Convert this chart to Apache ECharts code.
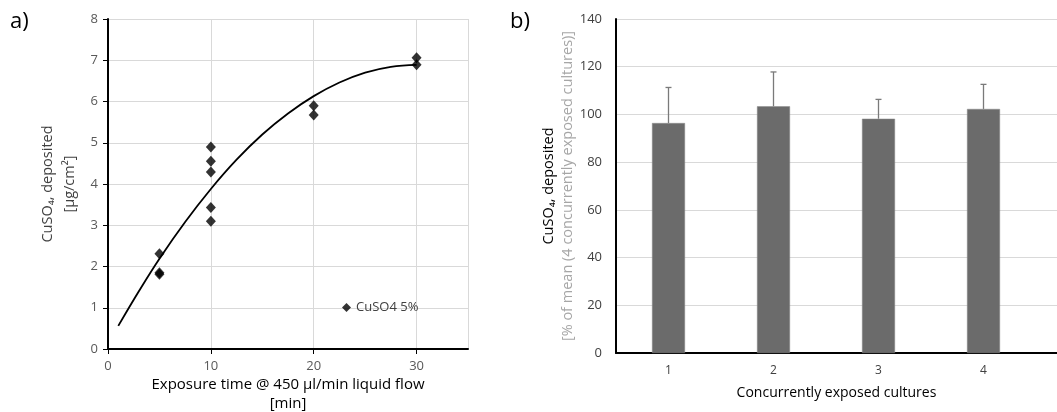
<!DOCTYPE html>
<html><head><meta charset="utf-8">
<script src="https://cdn.jsdelivr.net/npm/echarts@6/dist/echarts.min.js"></script>
<style>html,body{margin:0;padding:0;background:#fff}#c{width:1057px;height:412px}</style>
</head><body><div id="c"></div>
<script>
// ---- Panel a) data ----
const scatterX = [5, 5, 5, 10, 10, 10, 10, 10, 20, 20, 30, 30];
const scatterY = [2.31, 1.85, 1.81, 4.90, 4.55, 4.29, 3.43, 3.10, 5.90, 5.67, 7.06, 6.89];
const trendX = [1, 3, 5, 7.5, 10, 12.5, 15, 17.5, 20, 22.5, 25, 27.5, 30];
const trendY = [0.56, 1.40, 2.19, 3.08, 3.88, 4.59, 5.20, 5.71, 6.13, 6.46, 6.70, 6.84, 6.89];
const seriesNameA = 'CuSO4 5%';
// ---- Panel b) data ----
const cultures = [1, 2, 3, 4];
const meanPct = [96.4, 103.4, 98.2, 102.3];
const errPct = [14.9, 14.4, 8.1, 10.3];

const FONT = 'Open Sans';
const chart = echarts.init(document.getElementById('c'));
const scatterData = scatterX.map((x, i) => [x, scatterY[i]]);
const trendData = trendX.map((x, i) => [x, trendY[i]]);
const barData = cultures.map((c, i) => [c, meanPct[i]]);
const errData = cultures.map((c, i) => [c, meanPct[i], meanPct[i] + errPct[i]]);

chart.setOption({
  animation: false,
  textStyle: {fontFamily: FONT},
  graphic: [
    {type: 'text', left: 10, top: 11, style: {text: 'a)', fontSize: 22, fontFamily: FONT, fill: '#000'}},
    {type: 'text', left: 510, top: 11, style: {text: 'b)', fontSize: 22, fontFamily: FONT, fill: '#000'}}
  ],
  legend: {
    data: [seriesNameA], left: 337, top: 296, itemWidth: 9, itemHeight: 9, itemGap: 4,
    textStyle: {fontSize: 13, color: '#404040', fontFamily: FONT}
  },
  grid: [
    {left: 108, top: 19, right: 589, bottom: 63, outerBoundsMode: 'none', containLabel: false},
    {left: 616, top: 19, right: 0, bottom: 59, outerBoundsMode: 'none', containLabel: false}
  ],
  xAxis: [
    {
      gridIndex: 0, type: 'value', min: 0, max: 35, interval: 10,
      name: 'Exposure time @ 450 µl/min liquid flow\n[min]', nameLocation: 'middle', nameGap: 26,
      nameMoveOverlap: false,
      nameTextStyle: {fontSize: 15, color: '#000', lineHeight: 19, fontFamily: FONT, verticalAlign: 'top'},
      axisLine: {lineStyle: {color: '#000', width: 2}},
      axisTick: {show: true, length: 5, lineStyle: {color: '#000'}},
      axisLabel: {fontSize: 13, color: '#595959', margin: 11, showMaxLabel: false},
      splitLine: {show: true, lineStyle: {color: '#d9d9d9'}}
    },
    {
      gridIndex: 1, type: 'value', min: 0.5, max: 4.7, interval: 0.5,
      name: 'Concurrently exposed cultures', nameLocation: 'middle', nameGap: 33,
      nameMoveOverlap: false,
      nameTextStyle: {fontSize: 14, color: '#000', fontFamily: FONT},
      axisLine: {onZero: false, lineStyle: {color: '#000', width: 2}},
      axisTick: {show: false},
      axisLabel: {fontSize: 12, color: '#404040', margin: 12, showMaxLabel: false,
        formatter: v => Number.isInteger(v) ? String(v) : ''},
      splitLine: {show: false}
    }
  ],
  yAxis: [
    {
      gridIndex: 0, type: 'value', min: 0, max: 8, interval: 1,
      name: '{a|CuSO₄, deposited}\n{a|[µg/cm²]}', nameLocation: 'middle', nameGap: 27,
      nameTextStyle: {rich: {a: {fontSize: 14.5, color: '#404040', lineHeight: 22, fontFamily: FONT}}},
      axisLine: {show: true, lineStyle: {color: '#000', width: 2}},
      axisTick: {show: true, length: 5, lineStyle: {color: '#000'}},
      axisLabel: {fontSize: 13, color: '#595959', margin: 10},
      splitLine: {show: true, lineStyle: {color: '#d9d9d9'}}
    },
    {
      gridIndex: 1, type: 'value', min: 0, max: 140, interval: 20,
      name: '{a|CuSO₄, deposited}\n{b|[% of mean (4 concurrently exposed cultures)]}', nameLocation: 'middle', nameGap: 38,
      nameTextStyle: {rich: {
        a: {fontSize: 14.5, color: '#000', lineHeight: 19, fontFamily: FONT},
        b: {fontSize: 14.5, color: '#a6a6a6', lineHeight: 19, fontFamily: FONT}
      }},
      axisLine: {show: true, lineStyle: {color: '#000', width: 2}},
      axisTick: {show: false},
      axisLabel: {fontSize: 13, color: '#404040', margin: 14},
      splitLine: {show: true, lineStyle: {color: '#d9d9d9'}}
    }
  ],
  series: [
    {
      name: 'trend', type: 'line', xAxisIndex: 0, yAxisIndex: 0, data: trendData,
      smooth: 0.4, showSymbol: false, symbol: 'none', silent: true,
      lineStyle: {color: '#000', width: 1.8}, z: 3
    },
    {
      name: seriesNameA, type: 'scatter', xAxisIndex: 0, yAxisIndex: 0, data: scatterData,
      symbol: 'diamond', symbolSize: [10, 11], itemStyle: {color: '#000'}, z: 4
    },
    {
      name: 'mean', type: 'bar', xAxisIndex: 1, yAxisIndex: 1, data: barData,
      barWidth: 33, itemStyle: {color: '#6b6b6b', borderColor: '#8a8a8a', borderWidth: 0.5}, z: 2
    },
    {
      name: 'err', type: 'custom', xAxisIndex: 1, yAxisIndex: 1, data: errData, z: 3,
      renderItem: function (params, api) {
        const x = api.value(0);
        const lo = api.coord([x, api.value(1)]);
        const hi = api.coord([x, api.value(2)]);
        const cw = 3;
        const st = {stroke: '#7a7a7a', lineWidth: 1.3};
        return {type: 'group', children: [
          {type: 'line', shape: {x1: lo[0], y1: lo[1], x2: hi[0], y2: hi[1]}, style: st},
          {type: 'line', shape: {x1: hi[0] - cw, y1: hi[1], x2: hi[0] + cw, y2: hi[1]}, style: st}
        ]};
      }
    }
  ]
});
</script></body></html>
